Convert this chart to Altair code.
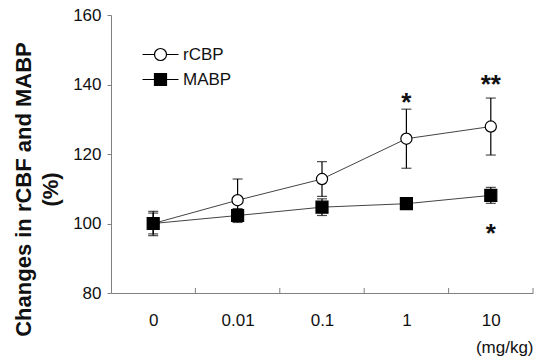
import json
import altair as alt
import pandas as pd

# ---- data ----
doses = ["0", "0.01", "0.1", "1", "10"]
rcbp_mean = [100.0, 106.7, 112.8, 124.4, 127.9]
rcbp_se = [3.5, 6.1, 5.0, 8.5, 8.2]
mabp_mean = [100.0, 102.3, 104.7, 105.7, 108.1]
mabp_se = [3.0, 2.0, 2.4, 1.5, 2.3]
series_names = ["rCBP", "MABP"]
star_text = ["*", "**", "*"]
star_dose = ["1", "10", "10"]
star_y = [136.8, 141.9, 98.9]

rows = []
for name, means, ses in [("rCBP", rcbp_mean, rcbp_se), ("MABP", mabp_mean, mabp_se)]:
    for i, (m, s) in enumerate(zip(means, ses)):
        rows.append({"series": name, "idx": i, "dose": doses[i], "mean": m,
                     "lo": m - s, "hi": m + s})
df = pd.DataFrame(rows)
stars = pd.DataFrame({"idx": [doses.index(d) for d in star_dose], "txt": star_text, "y": star_y})
bounds = pd.DataFrame({"b": [i + 0.5 for i in range(len(doses))]})

W, H = 422, 278
FONT = "Liberation Sans"
AX = "#808080"
INK = "#111111"

xscale = alt.Scale(domain=[-0.5, len(doses) - 0.5], nice=False, zero=False)
yscale = alt.Scale(domain=[80, 160], nice=False, zero=False)
label_expr = json.dumps(doses) + "[datum.value]"

x_enc = alt.X("idx:Q", scale=xscale,
              axis=alt.Axis(values=list(range(len(doses))), labelExpr=label_expr,
                            ticks=False, grid=False, domainColor=AX, labelFont=FONT,
                            labelFontSize=17, labelColor=INK, labelPadding=19,
                            title="(mg/kg)", titleFont=FONT, titleFontSize=17,
                            titleFontWeight="normal", titleColor=INK,
                            titleAnchor="end", titleAlign="right", titleX=W,
                            titleY=54, titleBaseline="middle"))
y_axis = alt.Axis(values=[80, 100, 120, 140, 160], grid=False, domainColor=AX,
                  tickColor=AX, tickSize=4, labelFont=FONT, labelFontSize=17,
                  labelColor=INK, labelPadding=6,
                  title=["Changes in rCBF and MABP", "(%)"], titleFont=FONT,
                  titleFontSize=22, titleFontWeight="bold", titleColor=INK,
                  titleLineHeight=27, titleAngle=-90, titleAlign="center",
                  titleBaseline="middle", titleX=-88, titleY=174)

base = alt.Chart(df)

def layers_for(name, shape, fill, size):
    d = base.transform_filter(alt.datum.series == name)
    err = d.mark_rule(color="black", strokeWidth=1.2).encode(
        x=alt.X("idx:Q", scale=xscale), y=alt.Y("lo:Q", scale=yscale), y2="hi:Q")
    cap_hi = d.mark_tick(orient="horizontal", color="black", size=10, thickness=1.2).encode(
        x=alt.X("idx:Q", scale=xscale), y=alt.Y("hi:Q", scale=yscale))
    cap_lo = d.mark_tick(orient="horizontal", color="black", size=10, thickness=1.2).encode(
        x=alt.X("idx:Q", scale=xscale), y=alt.Y("lo:Q", scale=yscale))
    line = d.mark_line(color="#444444", strokeWidth=1).encode(
        x=alt.X("idx:Q", scale=xscale), y=alt.Y("mean:Q", scale=yscale))
    pts = d.mark_point(shape=shape, filled=True, fill=fill, stroke="black",
                       strokeWidth=1.2, size=size, opacity=1).encode(
        x=alt.X("idx:Q", scale=xscale), y=alt.Y("mean:Q", scale=yscale))
    return [err, cap_hi, cap_lo, line, pts]

# axes layer
axes = base.mark_point(opacity=0).encode(
    x=x_enc, y=alt.Y("mean:Q", scale=yscale, axis=y_axis))

ticks = alt.Chart(bounds).mark_rule(color=AX, strokeWidth=1).encode(
    x=alt.X("b:Q", scale=xscale), y=alt.value(H), y2=alt.value(H - 5))

# legend (symbols: line + marker as custom paths)
circ_path = "M-3,0L-1,0M1,0L3,0M-1,0A1,1 0 1,0 1,0A1,1 0 1,0 -1,0Z"
sq_path = "M-3,0L-1,0M1,0L3,0M-1,-1L1,-1L1,1L-1,1Z"

def leg():
    return alt.Legend(title=None, orient="none", legendX=41, legendY=31,
                      symbolSize=144, labelFont=FONT, labelFontSize=17,
                      labelColor=INK, labelOffset=14, rowPadding=7,
                      symbolOpacity=1, symbolStrokeColor="black",
                      symbolStrokeWidth=1.2)

legend_layer = base.transform_filter("false").mark_point(
    filled=False, strokeWidth=1.2, opacity=1).encode(
    x=alt.X("idx:Q", scale=xscale), y=alt.Y("mean:Q", scale=yscale),
    shape=alt.Shape("series:N", scale=alt.Scale(domain=series_names, range=[circ_path, sq_path]),
                    legend=leg()),
    fill=alt.Fill("series:N", scale=alt.Scale(domain=series_names, range=["white", "black"]),
                  legend=leg()),
    stroke=alt.Stroke("series:N", scale=alt.Scale(domain=series_names, range=["black", "black"]),
                      legend=leg()),
)

star_layer = alt.Chart(stars).mark_text(font=FONT, fontSize=26, fontWeight="bold",
                                        color=INK, baseline="middle", dy=7).encode(
    x=alt.X("idx:Q", scale=xscale), y=alt.Y("y:Q", scale=yscale), text="txt:N")

chart = alt.layer(
    axes, ticks,
    *layers_for("rCBP", "circle", "white", 125),
    *layers_for("MABP", "square", "black", 144),
    legend_layer, star_layer,
).properties(
    width=W, height=H,
    padding={"left": 111, "top": 15, "right": 8, "bottom": 71},
    autosize=alt.AutoSizeParams(type="none"),
    background="white",
).configure_view(stroke=None)

chart.save("out.html", embed_options={"renderer": "svg", "actions": False})
